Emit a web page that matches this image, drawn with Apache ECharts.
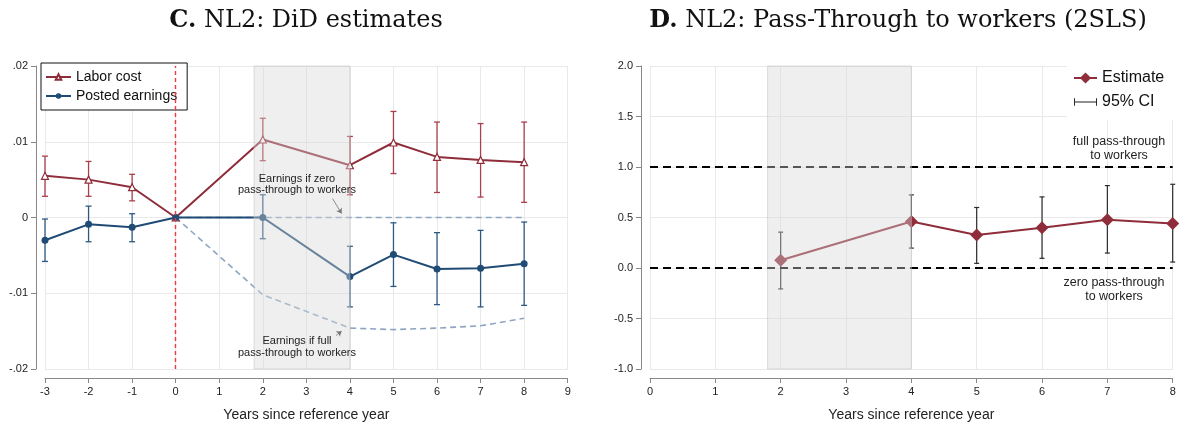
<!DOCTYPE html>
<html>
<head>
<meta charset="utf-8">
<script src="https://cdn.jsdelivr.net/npm/echarts@6/dist/echarts.min.js"></script>
<style>
  html, body { margin: 0; padding: 0; background: #fff; }
  #chart { width: 1187px; height: 427px; }
</style>
</head>
<body>
<div id="chart"></div>
<script>
// panel C: DiD estimates
const yearsC = [-3, -2, -1, 0, 2, 4, 5, 6, 7, 8]
const laborCost = [0.0055, 0.0050, 0.0040, 0, 0.0103, 0.0069, 0.0099, 0.0080, 0.0076, 0.0073]
const laborLo = [0.0028, 0.0028, 0.0022, null, 0.0075, 0.0030, 0.0058, 0.0033, 0.0027, 0.0020]
const laborHi = [0.0081, 0.0074, 0.0057, null, 0.0131, 0.0107, 0.0140, 0.0126, 0.0124, 0.0126]
const posted = [-0.0030, -0.0009, -0.0013, 0, 0, -0.0078, -0.0049, -0.0068, -0.0067, -0.0061]
const postedLo = [-0.0058, -0.0032, -0.0032, null, -0.0028, -0.0118, -0.0091, -0.0115, -0.0118, -0.0116]
const postedHi = [-0.0002, 0.0015, 0.0005, null, 0.0030, -0.0038, -0.0007, -0.0020, -0.0017, -0.0006]
const passYears = [0, 2, 4, 5, 6, 7, 8]
const zeroPass = [0, 0, 0, 0, 0, 0, 0]
const fullPass = [0, -0.0102, -0.0146, -0.0148, -0.0146, -0.0143, -0.0133]
const yLabelsC = ['-.02', '-.01', '0', '.01', '.02']

// panel D: pass-through (2SLS)
const yearsD = [2, 4, 5, 6, 7, 8]
const estimate = [0.076, 0.461, 0.326, 0.398, 0.477, 0.441]
const estLo = [-0.207, 0.197, 0.046, 0.096, 0.148, 0.059]
const estHi = [0.355, 0.724, 0.599, 0.704, 0.816, 0.829]

// shaded window (years)
const shade = [1.8, 4]

const RED = '#8f2d3a'
const BLUE = '#1f4b75'
const DASHBLUE = '#8ea6c2'
const FONT = '"Liberation Sans", Arial, sans-serif'
const SERIF = '"DejaVu Serif", serif'

function zip(xs, ys) { return xs.map((x, i) => [x, ys[i]]) }
function ciRows(xs, lo, hi) {
  const out = []
  xs.forEach((x, i) => { if (lo[i] !== null) out.push([x, lo[i], hi[i]]) })
  return out
}

// error bar drawn through the axes
function errBar(color, cap, width) {
  return function (params, api) {
    const x = api.value(0)
    const p1 = api.coord([x, api.value(1)])
    const p2 = api.coord([x, api.value(2)])
    const st = {stroke: color, lineWidth: width}
    return {
      type: 'group',
      children: [
        {type: 'line', shape: {x1: p1[0], y1: p1[1], x2: p2[0], y2: p2[1]}, style: st},
        {type: 'line', shape: {x1: p1[0] - cap, y1: p1[1], x2: p1[0] + cap, y2: p1[1]}, style: st},
        {type: 'line', shape: {x1: p2[0] - cap, y1: p2[1], x2: p2[0] + cap, y2: p2[1]}, style: st}
      ]
    }
  }
}

// translucent window drawn on top
function shadeBox(yMin, yMax) {
  return function (params, api) {
    const a = api.coord([api.value(0), yMax])
    const b = api.coord([api.value(1), yMin])
    return {
      type: 'rect',
      shape: {x: a[0], y: a[1], width: b[0] - a[0], height: b[1] - a[1]},
      style: {fill: 'rgba(215,215,215,0.4)', stroke: 'rgba(190,190,190,0.5)', lineWidth: 1}
    }
  }
}

const axisCommon = {
  axisLine: {show: true, onZero: false, lineStyle: {color: '#888', width: 1}},
  axisTick: {show: true, length: 5, lineStyle: {color: '#888'}},
  axisLabel: {color: '#222', fontSize: 11, fontFamily: FONT, margin: 8},
  splitLine: {show: true, lineStyle: {color: '#e9e9e9', width: 1}}
}

const titleStyle = {
  fontFamily: SERIF, fontSize: 24, fontWeight: 'normal', color: '#111',
  rich: {b: {fontFamily: SERIF, fontSize: 24, fontWeight: 'bold', color: '#111'}}
}

const chart = echarts.init(document.getElementById('chart'))
chart.setOption({
  animation: false,
  backgroundColor: '#fff',
  title: [
    {text: '{b|C.} NL2: DiD estimates', left: 301, top: 4, textAlign: 'center', textStyle: titleStyle},
    {text: '{b|D.} NL2: Pass-Through to workers (2SLS)', left: 893, top: 4, textAlign: 'center', textStyle: titleStyle}
  ],
  legend: [
    {
      data: ['Labor cost', 'Posted earnings'],
      orient: 'vertical', left: 41, top: 63,
      itemWidth: 25, itemHeight: 7, itemGap: 3,
      padding: [6, 10, 6, 4],
      borderColor: '#111', borderWidth: 1, backgroundColor: '#fff',
      textStyle: {fontFamily: FONT, fontSize: 14, color: '#111', lineHeight: 16},
      selectedMode: false
    },
    {
      data: [
        {name: 'Estimate'},
        {name: '95% CI', icon: 'path://M0,0h1v8h-1z M0,3.5h24v1h-24z M23,0h1v8h-1z'}
      ],
      orient: 'vertical', left: 1067, top: 60,
      itemWidth: 23, itemHeight: 14, itemGap: 8,
      padding: [10, 14, 10, 6],
      backgroundColor: '#fff',
      textStyle: {fontFamily: FONT, fontSize: 16, color: '#111'},
      selectedMode: false
    }
  ],
  grid: [
    {left: 45, top: 66, width: 522.7, height: 304},
    {left: 650, top: 66, width: 522.7, height: 304}
  ],
  xAxis: [
    Object.assign({}, axisCommon, {
      gridIndex: 0, type: 'value', min: -3, max: 9, interval: 1, offset: 9,
      name: 'Years since reference year', nameLocation: 'middle', nameGap: 30,
      nameTextStyle: {fontFamily: FONT, fontSize: 14, color: '#222'}
    }),
    Object.assign({}, axisCommon, {
      gridIndex: 1, type: 'value', min: 0, max: 8, interval: 1, offset: 9,
      name: 'Years since reference year', nameLocation: 'middle', nameGap: 30,
      nameTextStyle: {fontFamily: FONT, fontSize: 14, color: '#222'}
    })
  ],
  yAxis: [
    Object.assign({}, axisCommon, {
      gridIndex: 0, type: 'value', min: -0.02, max: 0.02, interval: 0.01, offset: 9,
      axisLabel: Object.assign({}, axisCommon.axisLabel, {formatter: (v, i) => yLabelsC[i]})
    }),
    Object.assign({}, axisCommon, {
      gridIndex: 1, type: 'value', min: -1, max: 2, interval: 0.5, offset: 9,
      axisLabel: Object.assign({}, axisCommon.axisLabel, {formatter: v => v.toFixed(1)})
    })
  ],
  graphic: [
    {type: 'text', x: 297, y: 173, z: 50,
      style: {text: 'Earnings if zero\npass-through to workers', textAlign: 'center', fontFamily: FONT, fontSize: 11, lineHeight: 11.5, fill: '#222'}},
    {type: 'text', x: 297, y: 335.5, z: 50,
      style: {text: 'Earnings if full\npass-through to workers', textAlign: 'center', fontFamily: FONT, fontSize: 11, lineHeight: 11.5, fill: '#222'}},
    {type: 'text', x: 1119, y: 134.5, z: 50,
      style: {text: 'full pass-through\nto workers', textAlign: 'center', fontFamily: FONT, fontSize: 12.5, lineHeight: 13.8, fill: '#222'}},
    {type: 'text', x: 1114, y: 275.5, z: 50,
      style: {text: 'zero pass-through\nto workers', textAlign: 'center', fontFamily: FONT, fontSize: 12.5, lineHeight: 14.2, fill: '#222'}}
  ],
  series: [
    // counterfactual paths
    {
      name: 'zero pass-through', type: 'line', xAxisIndex: 0, yAxisIndex: 0, z: 2,
      data: zip(passYears, zeroPass), showSymbol: false,
      lineStyle: {color: DASHBLUE, width: 1.6, type: [6, 4]},
      markLine: {
        silent: true, symbol: ['none', 'arrow'], symbolSize: 5,
        label: {show: false},
        lineStyle: {color: '#333', width: 0.8, type: 'solid'},
        data: [
          [{coord: [3.60, 0.0025]}, {coord: [3.81, 0.00053]}],
          [{coord: [3.68, -0.01558]}, {coord: [3.81, -0.0150]}]
        ]
      }
    },
    {
      name: 'full pass-through', type: 'line', xAxisIndex: 0, yAxisIndex: 0, z: 2,
      data: zip(passYears, fullPass), showSymbol: false,
      lineStyle: {color: DASHBLUE, width: 1.6, type: [6, 4]}
    },
    {
      name: 'Labor cost CI', type: 'custom', xAxisIndex: 0, yAxisIndex: 0, z: 3,
      data: ciRows(yearsC, laborLo, laborHi), encode: {x: 0, y: [1, 2]},
      renderItem: errBar('#a8404d', 3, 1.3)
    },
    {
      name: 'Posted earnings CI', type: 'custom', xAxisIndex: 0, yAxisIndex: 0, z: 3,
      data: ciRows(yearsC, postedLo, postedHi), encode: {x: 0, y: [1, 2]},
      renderItem: errBar('#2d5a84', 3, 1.3)
    },
    {
      name: 'Labor cost', type: 'line', xAxisIndex: 0, yAxisIndex: 0, z: 4,
      data: zip(yearsC, laborCost),
      symbol: 'triangle', symbolSize: 7, showAllSymbol: true,
      lineStyle: {color: RED, width: 2},
      itemStyle: {color: '#fff', borderColor: RED, borderWidth: 1.2},
      markLine: {
        silent: true, symbol: 'none', label: {show: false},
        lineStyle: {color: '#ee3b40', width: 1.4, type: [4, 3]},
        data: [{xAxis: 0}]
      }
    },
    {
      name: 'Posted earnings', type: 'line', xAxisIndex: 0, yAxisIndex: 0, z: 4,
      data: zip(yearsC, posted),
      symbol: 'circle', symbolSize: 7, showAllSymbol: true,
      lineStyle: {color: BLUE, width: 2},
      itemStyle: {color: BLUE}
    },
    {
      name: 'windowC', type: 'custom', xAxisIndex: 0, yAxisIndex: 0, z: 10, silent: true,
      data: [shade], renderItem: shadeBox(-0.02, 0.02)
    },

    // panel D
    {
      name: '95% CI', type: 'custom', xAxisIndex: 1, yAxisIndex: 1, z: 3,
      data: ciRows(yearsD, estLo, estHi), encode: {x: 0, y: [1, 2]},
      itemStyle: {color: '#222'},
      renderItem: errBar('#2a2a2a', 2.5, 1.2)
    },
    {
      name: 'Estimate', type: 'line', xAxisIndex: 1, yAxisIndex: 1, z: 4,
      data: zip(yearsD, estimate),
      symbol: 'diamond', symbolSize: 13, showAllSymbol: true,
      lineStyle: {color: RED, width: 2},
      itemStyle: {color: RED},
      markLine: {
        silent: true, symbol: 'none', label: {show: false},
        lineStyle: {color: '#000', width: 2, type: [8, 5]},
        data: [{yAxis: 1}, {yAxis: 0}]
      }
    },
    {
      name: 'windowD', type: 'custom', xAxisIndex: 1, yAxisIndex: 1, z: 10, silent: true,
      data: [shade], renderItem: shadeBox(-1, 2)
    }
  ]
})
</script>
</body>
</html>
